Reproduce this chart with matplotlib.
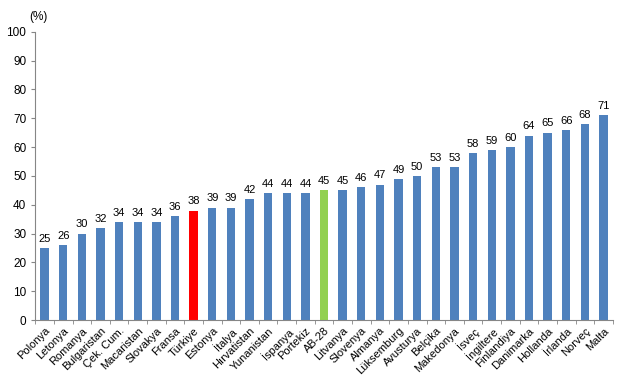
import matplotlib
matplotlib.use("Agg")
import matplotlib.pyplot as plt
import numpy as np

plt.rcParams["font.family"] = ["Liberation Sans", "DejaVu Sans"]

countries = ["Polonya", "Letonya", "Romanya", "Bulgaristan", "Çek. Cum.", "Macaristan",
             "Slovakya", "Fransa", "Türkiye", "Estonya", "İtalya", "Hırvatistan",
             "Yunanistan", "İspanya", "Portekiz", "AB-28", "Litvanya", "Slovenya",
             "Almanya", "Lüksemburg", "Avusturya", "Belçika", "Makedonya", "İsveç",
             "İngiltere", "Finlandiya", "Danimarka", "Hollanda", "İrlanda", "Norveç", "Malta"]
values = [25, 26, 30, 32, 34, 34, 34, 36, 38, 39, 39, 42, 44, 44, 44, 45, 45, 46,
          47, 49, 50, 53, 53, 58, 59, 60, 64, 65, 66, 68, 71]

colors = []
for c in countries:
    if c == "Türkiye":
        colors.append("#FF0000")
    elif c == "AB-28":
        colors.append("#92D050")
    else:
        colors.append("#4F81BD")

fig = plt.figure(figsize=(6.19, 3.88), dpi=100)
ax = fig.add_axes([0.057, 0.175, 0.933, 0.743])

x = np.arange(len(countries))
ax.bar(x, values, width=0.45, color=colors)
for xi, v in zip(x, values):
    ax.text(xi, v + 1.5, str(v), ha="center", va="bottom", fontsize=8)

ax.set_xlim(-0.5, len(countries) - 0.5)
ax.set_ylim(0, 100)
ax.set_yticks(range(0, 101, 10))
ax.tick_params(axis="y", labelsize=8.5, length=3, color="#868686")
ax.set_xticks(x)
ax.set_xticklabels(countries, rotation=45, ha="right", rotation_mode="anchor", fontsize=8)
ax.tick_params(axis="x", length=0, pad=4)
ax.set_xticks(np.arange(-0.5, len(countries), 1), minor=True)
ax.tick_params(axis="x", which="minor", length=3, color="#868686")

for s in ["top", "right"]:
    ax.spines[s].set_visible(False)
for s in ["left", "bottom"]:
    ax.spines[s].set_color("#868686")

fig.text(0.062, 0.955, "(%)", ha="center", va="center", fontsize=8.5)

fig.savefig("out.png", dpi=100)
